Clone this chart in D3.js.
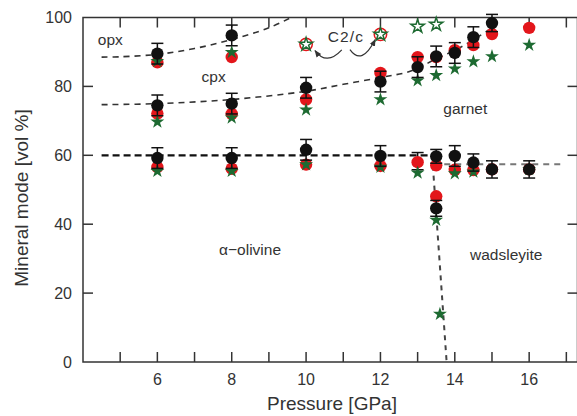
<!DOCTYPE html>
<html>
<head>
<meta charset="utf-8">
<script src="https://cdn.jsdelivr.net/npm/d3@7"></script>
<style>
  body { margin: 0; background: #fff; }
  svg { display: block; font-family: "Liberation Sans", Arial, sans-serif; }
</style>
</head>
<body>
<svg id="chart" width="577" height="416"></svg>
<script>
// pressures of the runs [GPa]
const pOpx = [6, 8];
const pMain = [6, 8, 10, 12, 13, 13.5, 14, 14.5, 15, 16];

// opx field (upper group)
const opxBlack = [89.5, 94.8];
const opxRed = [87.0, 88.5];
const opxGreen = [87.3, 89.9];
const opxErr = [3, 3];

// cpx / garnet group
const gtBlack = [74.5, 75.0, 79.6, 81.4, 85.6, 88.7, 89.7, 94.3, 98.4, null];
const gtRed = [72.1, 72.0, 76.2, 83.9, 88.5, 88.5, 90.5, 92.0, 95.2, 97.0];
const gtGreen = [69.7, 70.9, 73.2, 76.2, 81.7, 83.2, 85.1, 87.2, 88.7, 92.0];
const gtErr = [3, 3, 3, 3, 3, 3, 3, 3, 2.5, null];

// olivine / wadsleyite group
const olBlack = [59.2, 59.2, 61.6, 59.8, null, 59.7, 59.8, 57.9, 55.9, 55.9];
const olRed = [56.6, 56.1, 57.3, 56.9, 58.0, 57.1, 55.8, 55.7, 55.9, 55.9];
const olGreen = [55.4, 55.4, 57.3, 56.6, 54.9, null, 54.7, 55.2, null, 55.9];
const olErr = [3, 3, 3, 3, 2.5, 2, 3, 2.5, 2.5, 2.5];
const olErrOnly = [null, null, null, null, 58.3, null, null, null, null, null];

// points inside the olivine -> wadsleyite transition
const pTrans = [13.5];
const trBlack = [44.6];
const trRed = [48.1];
const trGreen = [41.2];
const trErr = [2.3];
const pTransStar = [13.6];
const trStar = [13.9];

// C2/c (open symbols)
const pC2c = [10, 12, 13, 13.5];
const c2cStar = [92.2, 95.1, 97.4, 98.0];
const c2cRing = [true, true, false, false];

// phase boundaries (dashed)
const opxLine = [[4.5, 88.5], [5, 88.6], [6, 89.3], [7, 91.0], [8, 93.6], [9, 97.0], [9.6, 100]];
const gtLine = [[4.5, 74.7], [6, 75.0], [8, 76.2], [10, 78.6], [11, 80.6], [12, 82.6], [12.8, 84.4], [13.5, 88.0], [14, 90.5], [14.5, 93.5], [14.9, 96.3]];
const olLine = [[4.5, 60], [13.45, 60]];
const wdLine = [[13.42, 57.4], [16.9, 57.4]];
const vLine = [[13.41, 57.0], [13.78, 0]];

const xTicks = d3.range(4, 18);
const xLabels = [6, 8, 10, 12, 14, 16];
const yTicks = [0, 20, 40, 60, 80, 100];

const labels = [
  { t: "opx", p: 4.40, v: 91.9 },
  { t: "cpx", p: 7.19, v: 81.2 },
  { t: "C2/c", p: 10.58, v: 92.8 },
  { t: "garnet", p: 13.69, v: 72.1 },
  { t: "\u03b1\u2212olivine", p: 7.66, v: 31.0 },
  { t: "wadsleyite", p: 14.41, v: 29.6 }
];

const arrows = [
  [[10.96, 90.6], [10.55, 88.2], [10.24, 90.4]],
  [[11.18, 90.7], [11.5, 88.2], [11.86, 93.6]]
];

const svg = d3.select("#chart");
const x = d3.scaleLinear().domain([4, 17.3]).range([83, 577.5]);
const y = d3.scaleLinear().domain([0, 100]).range([362, 17.5]);

const axisCol = "#333";
const RED = "#e3161b", GREEN = "#1d6a31", BLACK = "#111";

// frame
svg.append("rect")
  .attr("x", x(4)).attr("y", y(100))
  .attr("width", x(17.3) - x(4)).attr("height", y(0) - y(100))
  .attr("fill", "none").attr("stroke", axisCol).attr("stroke-width", 1.5);

// ticks
const tl = 10;
const g = svg.append("g").attr("stroke", axisCol).attr("stroke-width", 1.5);
xTicks.filter(d => d > 4).forEach(d => {
  g.append("line").attr("x1", x(d)).attr("x2", x(d)).attr("y1", y(0)).attr("y2", y(0) - tl);
  g.append("line").attr("x1", x(d)).attr("x2", x(d)).attr("y1", y(100)).attr("y2", y(100) + tl);
});
yTicks.filter(d => d > 0 && d < 100).forEach(d => {
  g.append("line").attr("x1", x(4)).attr("x2", x(4) + tl).attr("y1", y(d)).attr("y2", y(d));
  g.append("line").attr("x1", x(17.3)).attr("x2", x(17.3) - tl).attr("y1", y(d)).attr("y2", y(d));
});

// tick labels
svg.append("g").selectAll("text").data(xLabels).join("text")
  .attr("x", d => x(d)).attr("y", 384.5)
  .attr("text-anchor", "middle").attr("font-size", 16).attr("fill", axisCol)
  .text(d => d);
svg.append("g").selectAll("text").data(yTicks).join("text")
  .attr("x", 72).attr("y", d => y(d)).attr("dy", "0.36em")
  .attr("text-anchor", "end").attr("font-size", 16).attr("fill", axisCol)
  .text(d => d);

// axis titles
svg.append("text").attr("x", 332).attr("y", 410)
  .attr("text-anchor", "middle").attr("font-size", 19).attr("fill", axisCol)
  .text("Pressure [GPa]");
svg.append("text").attr("transform", "translate(28,198) rotate(-90)")
  .attr("text-anchor", "middle").attr("font-size", 19).attr("fill", axisCol)
  .text("Mineral mode [vol %]");

// boundaries
const line = d3.line().x(d => x(d[0])).y(d => y(d[1]));
const curve = d3.line().x(d => x(d[0])).y(d => y(d[1])).curve(d3.curveCatmullRom);
svg.append("path").attr("d", curve(opxLine)).attr("fill", "none")
  .attr("stroke", "#333").attr("stroke-width", 1.6).attr("stroke-dasharray", "6,5");
svg.append("path").attr("d", curve(gtLine)).attr("fill", "none")
  .attr("stroke", "#333").attr("stroke-width", 1.6).attr("stroke-dasharray", "6,5");
svg.append("path").attr("d", line(olLine)).attr("fill", "none")
  .attr("stroke", "#111").attr("stroke-width", 2.2).attr("stroke-dasharray", "7,4");
svg.append("path").attr("d", line(wdLine)).attr("fill", "none")
  .attr("stroke", "#777").attr("stroke-width", 2).attr("stroke-dasharray", "6,5");
svg.append("path").attr("d", line(vLine)).attr("fill", "none")
  .attr("stroke", "#444").attr("stroke-width", 2).attr("stroke-dasharray", "5,5");

// labels
svg.append("g").selectAll("text").data(labels).join("text")
  .attr("x", d => x(d.p)).attr("y", d => y(d.v))
  .attr("font-size", 15.5).attr("fill", "#333")
  .attr("letter-spacing", d => d.t === "C2/c" ? 1.2 : 0)
  .text(d => d.t);

// arrows
svg.append("defs").append("marker")
  .attr("id", "ah").attr("viewBox", "0 0 10 10").attr("refX", 9).attr("refY", 5)
  .attr("markerWidth", 6).attr("markerHeight", 6).attr("orient", "auto")
  .append("path").attr("d", "M0,1L10,5L0,9Z").attr("fill", "#333");
arrows.forEach(a => {
  svg.append("path")
    .attr("d", `M${x(a[0][0])},${y(a[0][1])}Q${x(a[1][0])},${y(a[1][1]) + 8} ${x(a[2][0])},${y(a[2][1])}`)
    .attr("fill", "none").attr("stroke", "#333").attr("stroke-width", 1.2)
    .attr("marker-end", "url(#ah)");
});

// symbols
const star = d3.symbol(d3.symbolStar, 60);
const R = 6.2;

function drawSeries(ps, black, red, green, err) {
  const rows = ps.map((p, i) => ({ p, b: black[i], r: red[i], gr: green[i], e: err[i] }));
  svg.append("g").selectAll("circle").data(rows.filter(d => d.r != null)).join("circle")
    .attr("cx", d => x(d.p)).attr("cy", d => y(d.r)).attr("r", R).attr("fill", RED);
  svg.append("g").selectAll("path").data(rows.filter(d => d.gr != null)).join("path")
    .attr("d", star).attr("transform", d => `translate(${x(d.p)},${y(d.gr)})`)
    .attr("fill", GREEN);
  const eb = svg.append("g").attr("stroke", BLACK).attr("stroke-width", 1.5);
  rows.filter(d => d.b != null && d.e != null).forEach(d => {
    const cx = x(d.p);
    eb.append("line").attr("x1", cx).attr("x2", cx).attr("y1", y(d.b - d.e)).attr("y2", y(d.b + d.e));
    [d.b - d.e, d.b + d.e].forEach(v => {
      eb.append("line").attr("x1", cx - 6).attr("x2", cx + 6).attr("y1", y(v)).attr("y2", y(v));
    });
  });
  svg.append("g").selectAll("circle").data(rows.filter(d => d.b != null)).join("circle")
    .attr("cx", d => x(d.p)).attr("cy", d => y(d.b)).attr("r", R).attr("fill", BLACK);
}

drawSeries(pOpx, opxBlack, opxRed, opxGreen, opxErr);
drawSeries(pMain, gtBlack, gtRed, gtGreen, gtErr);

// error bar without visible black symbol (13 GPa, hidden behind red)
const ebo = svg.append("g").attr("stroke", BLACK).attr("stroke-width", 1.5);
pMain.forEach((p, i) => {
  if (olErrOnly[i] == null) return;
  const v = olErrOnly[i], e = olErr[i], cx = x(p);
  ebo.append("line").attr("x1", cx).attr("x2", cx).attr("y1", y(v - e)).attr("y2", y(v + e));
  [v - e, v + e].forEach(t => ebo.append("line").attr("x1", cx - 6).attr("x2", cx + 6).attr("y1", y(t)).attr("y2", y(t)));
});
drawSeries(pMain, olBlack, olRed, olGreen, olErr);
drawSeries(pTrans, trBlack, trRed, trGreen, trErr);

svg.append("g").selectAll("path").data(pTransStar).join("path")
  .attr("d", star).attr("transform", (d, i) => `translate(${x(d)},${y(trStar[i])})`)
  .attr("fill", GREEN);

// C2/c open symbols
const c2 = pC2c.map((p, i) => ({ p, v: c2cStar[i], ring: c2cRing[i] }));
svg.append("g").selectAll("circle").data(c2.filter(d => d.ring)).join("circle")
  .attr("cx", d => x(d.p)).attr("cy", d => y(d.v)).attr("r", R)
  .attr("fill", "#fff").attr("stroke", RED).attr("stroke-width", 1.5);
svg.append("g").selectAll("path").data(c2).join("path")
  .attr("d", d3.symbol(d3.symbolStar, 55)).attr("transform", d => `translate(${x(d.p)},${y(d.v)})`)
  .attr("fill", "#fff").attr("stroke", GREEN).attr("stroke-width", 1.5);
</script>
</body>
</html>
